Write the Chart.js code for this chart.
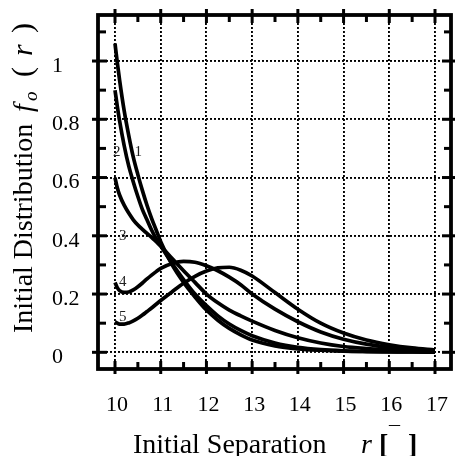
<!DOCTYPE html>
<html>
<head>
<meta charset="utf-8">
<script src="https://cdn.jsdelivr.net/npm/chart.js@4.4.0/dist/chart.umd.min.js"></script>
<style>
body{margin:0;background:#fff;}
</style>
</head>
<body>
<canvas id="mycanvas" width="455" height="456"></canvas>
<script>
// initial separation r, shared by every curve
var separation = [10, 10.05, 10.1, 10.2, 10.3, 10.4, 10.5, 10.6, 10.7, 10.8, 10.9, 11, 11.25, 11.5, 11.75, 12, 12.25, 12.5, 12.75, 13, 13.5, 14, 14.5, 15, 15.5, 16, 16.5, 17];

// f_o(r) for the five cases
var curve1 = [1.06, 0.995, 0.935, 0.83, 0.745, 0.67, 0.61, 0.555, 0.505, 0.46, 0.42, 0.38, 0.30, 0.24, 0.19, 0.145, 0.11, 0.082, 0.06, 0.042, 0.022, 0.012, 0.007, 0.004, 0.0025, 0.0015, 0.001, 0.0005];
var curve2 = [0.90, 0.845, 0.795, 0.71, 0.64, 0.585, 0.535, 0.49, 0.455, 0.42, 0.39, 0.365, 0.305, 0.25, 0.2, 0.16, 0.125, 0.097, 0.075, 0.057, 0.032, 0.017, 0.009, 0.005, 0.003, 0.002, 0.001, 0.0005];
var curve3 = [0.60, 0.565, 0.54, 0.505, 0.478, 0.455, 0.437, 0.422, 0.408, 0.395, 0.38, 0.365, 0.322, 0.28, 0.24, 0.2, 0.17, 0.145, 0.125, 0.107, 0.075, 0.05, 0.032, 0.02, 0.013, 0.008, 0.005, 0.003];
var curve4 = [0.24, 0.222, 0.212, 0.206, 0.207, 0.214, 0.225, 0.238, 0.252, 0.265, 0.277, 0.288, 0.305, 0.312, 0.309, 0.297, 0.28, 0.258, 0.232, 0.2, 0.148, 0.105, 0.07, 0.045, 0.028, 0.017, 0.01, 0.006];
var curve5 = [0.105, 0.1, 0.097, 0.097, 0.101, 0.108, 0.117, 0.128, 0.14, 0.152, 0.165, 0.178, 0.208, 0.237, 0.261, 0.279, 0.29, 0.292, 0.282, 0.262, 0.205, 0.148, 0.1, 0.066, 0.042, 0.026, 0.015, 0.008];

var curveNames = ['1', '2', '3', '4', '5'];
// where the small curve numbers sit (data coords)
var curveLabelX = [10.51, 10.04, 10.17, 10.17, 10.17];
var curveLabelY = [0.686, 0.686, 0.40, 0.24, 0.12];

var xTicks = [10, 11, 12, 13, 14, 15, 16, 17];
var yTicks = [0, 0.2, 0.4, 0.6, 0.8, 1];
var xMinor = [10.5, 11.5, 12.5, 13.5, 14.5, 15.5, 16.5];
var yMinor = [0.1, 0.3, 0.5, 0.7, 0.9, 1.1];

function toPoints(ys) {
	return separation.map(function(x, i) { return {x: x, y: ys[i]}; });
}

var serif = '"Liberation Serif", "Times New Roman", serif';

function seg(ctx, x1, y1, x2, y2) {
	ctx.beginPath();
	ctx.moveTo(x1, y1);
	ctx.lineTo(x2, y2);
	ctx.stroke();
}

// no automatic label padding, the frame has to sit at fixed pixels
function noPad(scale) {
	scale.paddingLeft = 0;
	scale.paddingRight = 0;
	scale.paddingTop = 0;
	scale.paddingBottom = 0;
}

var framePlugin = {
	id: 'frame',
	afterDraw: function(chart) {
		var ctx = chart.ctx;
		var a = chart.chartArea;
		var xs = chart.scales.x;
		var ys = chart.scales.y;
		ctx.save();
		ctx.strokeStyle = '#000';
		ctx.lineWidth = 3;

		xTicks.forEach(function(v) {
			var p = xs.getPixelForValue(v);
			seg(ctx, p, a.top - 6, p, a.top + 8);
			seg(ctx, p, a.bottom - 8, p, a.bottom + 5);
		});
		xMinor.forEach(function(v) {
			var p = xs.getPixelForValue(v);
			seg(ctx, p, a.top, p, a.top + 7);
			seg(ctx, p, a.bottom - 7, p, a.bottom);
		});
		yTicks.forEach(function(v) {
			var p = ys.getPixelForValue(v);
			seg(ctx, a.left - 6, p, a.left + 9, p);
			seg(ctx, a.right - 9, p, a.right + 4, p);
		});
		yMinor.forEach(function(v) {
			var p = ys.getPixelForValue(v);
			seg(ctx, a.left, p, a.left + 8, p);
			seg(ctx, a.right - 7, p, a.right, p);
		});

		ctx.lineWidth = 3.8;
		ctx.strokeRect(a.left, a.top, a.right - a.left, a.bottom - a.top);

		// curve numbers
		ctx.fillStyle = '#222';
		ctx.font = '15px ' + serif;
		ctx.textAlign = 'center';
		ctx.textBaseline = 'middle';
		curveNames.forEach(function(t, i) {
			ctx.fillText(t, xs.getPixelForValue(curveLabelX[i]), ys.getPixelForValue(curveLabelY[i]));
		});

		// x axis title
		ctx.fillStyle = '#000';
		ctx.textAlign = 'left';
		ctx.textBaseline = 'alphabetic';
		ctx.font = '28px ' + serif;
		ctx.fillText('Initial Separation', 133, 453);
		ctx.font = 'italic 28px ' + serif;
		ctx.fillText('r', 361, 453);
		ctx.font = 'bold 28px ' + serif;
		ctx.fillText('[', 379, 453);
		ctx.fillText(']', 408, 453);
		ctx.font = '22px ' + serif;
		ctx.fillText('\u00af', 389, 441);

		// y axis title
		ctx.translate(32, 333);
		ctx.rotate(-Math.PI / 2);
		ctx.font = '28px ' + serif;
		ctx.fillText('Initial Distribution', 0, 0);
		ctx.font = 'italic 28px ' + serif;
		ctx.fillText('f', 221, 0);
		ctx.font = 'italic 19px ' + serif;
		ctx.fillText('o', 232, 5);
		ctx.font = '30px ' + serif;
		ctx.fillText('(', 256, 0);
		ctx.font = 'italic 30px ' + serif;
		ctx.fillText('r', 277, 0);
		ctx.font = '30px ' + serif;
		ctx.fillText(')', 300, 0);
		ctx.restore();
	}
};

var ctx = document.getElementById('mycanvas');

var datasets = [curve1, curve2, curve3, curve4, curve5].map(function(c, i) {
	return {
		label: curveNames[i],
		data: toPoints(c),
		borderColor: '#000',
		borderWidth: 3.7,
		pointRadius: 0,
		fill: false,
		cubicInterpolationMode: 'monotone'
	};
});

var chart = new Chart(ctx, {
	type: 'line',
	data: {datasets: datasets},
	plugins: [framePlugin],
	options: {
		responsive: false,
		devicePixelRatio: 1,
		animation: false,
		layout: {padding: {top: 15, right: 4, left: 52, bottom: 0}},
		plugins: {legend: {display: false}, tooltip: {enabled: false}},
		scales: {
			x: {
				type: 'linear',
				min: 9.628,
				max: 17.35,
				afterBuildTicks: function(scale) {
					scale.ticks = xTicks.map(function(v) { return {value: v}; });
				},
				afterFit: function(scale) { scale.height = 87; noPad(scale); },
				grid: {color: '#000', lineWidth: 1.9, drawTicks: false},
				border: {display: false, dash: [2, 2]},
				ticks: {
					color: '#000',
					font: {family: serif, size: 22},
					padding: 23,
					labelOffset: 2,
					maxRotation: 0,
					callback: function(v) { return '' + v; }
				}
			},
			y: {
				type: 'linear',
				min: -0.0573,
				max: 1.158,
				afterBuildTicks: function(scale) {
					scale.ticks = yTicks.map(function(v) { return {value: v}; });
				},
				afterFit: function(scale) { scale.width = 46; noPad(scale); },
				grid: {color: '#000', lineWidth: 1.9, drawTicks: false},
				border: {display: false, dash: [2, 2]},
				ticks: {
					color: '#000',
					font: {family: serif, size: 22},
					crossAlign: 'far',
					padding: 18,
					labelOffset: 5,
					callback: function(v) { return '' + v; }
				}
			}
		}
	}
});
</script>
</body>
</html>
